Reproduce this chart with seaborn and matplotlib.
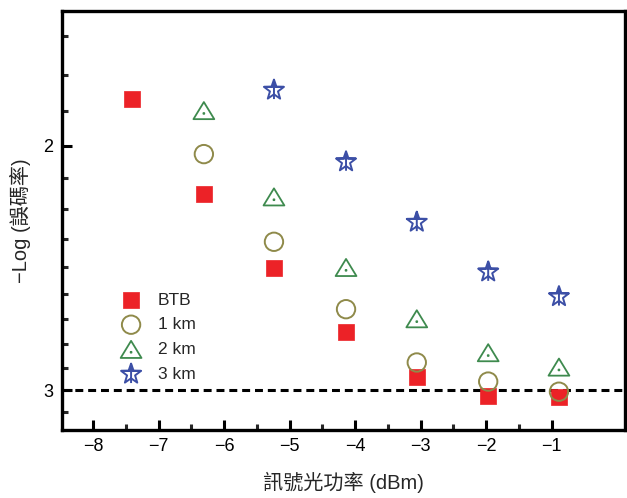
import numpy as np
import pandas as pd
import matplotlib
matplotlib.use("Agg")
import matplotlib.pyplot as plt
import seaborn as sns
from matplotlib.path import Path
from matplotlib.ticker import NullFormatter

# data
x_btb = [-7.40, -6.31, -5.24, -4.14, -3.06, -1.97, -0.89]
y_btb = [1.851, 2.168, 2.451, 2.725, 2.933, 3.026, 3.033]

x_1km = [-6.31, -5.24, -4.14, -3.06, -1.97, -0.89]
y_1km = [2.028, 2.345, 2.622, 2.864, 2.956, 3.006]

x_2km = [-6.31, -5.24, -4.14, -3.06, -1.97, -0.89]
y_2km = [1.887, 2.177, 2.447, 2.664, 2.818, 2.886]

x_3km = [-5.24, -4.14, -3.06, -1.97, -0.89]
y_3km = [1.824, 2.054, 2.270, 2.465, 2.568]

series_labels = ["BTB", "1 km", "2 km", "3 km"]
x_ticks = [-8, -7, -6, -5, -4, -3, -2, -1]
y_ticks = [2, 3]
y_minor = [1 + k / 9 for k in range(6, 9)] + [2 + k / 9 for k in range(1, 9)] + [3 + 1 / 9]

sns.set_style("ticks")
plt.rcParams["font.family"] = ["Liberation Sans", "Noto Sans CJK TC", "DejaVu Sans"]
plt.rcParams["axes.unicode_minus"] = True

# star marker with a cross through it
ang = np.deg2rad(90 + 36 * np.arange(10))
rad = np.where(np.arange(10) % 2 == 0, 1.0, 0.40)
star_v = list(zip(rad * np.cos(ang), rad * np.sin(ang)))
star_verts = star_v + [star_v[0], (0, 1), (0, -0.85), (-0.951, 0.309), (0.951, 0.309)]
star_codes = [Path.MOVETO] + [Path.LINETO] * 9 + [Path.CLOSEPOLY,
              Path.MOVETO, Path.LINETO, Path.MOVETO, Path.LINETO]
star_marker = Path(star_verts, star_codes)

# triangle with a dot in it
d = 0.04
tri_verts = [(0, 0.82), (-1, -0.82), (1, -0.82), (0, 0.82),
             (-d, -0.273 - d), (d, -0.273 - d), (d, -0.273 + d), (-d, -0.273 + d), (-d, -0.273 - d)]
tri_codes = [Path.MOVETO, Path.LINETO, Path.LINETO, Path.CLOSEPOLY,
             Path.MOVETO, Path.LINETO, Path.LINETO, Path.LINETO, Path.CLOSEPOLY]
tri_marker = Path(tri_verts, tri_codes)

fig = plt.figure(figsize=(6.27, 4.98), dpi=100)
ax = fig.add_axes([0.0984, 0.1365, 0.8986, 0.8414])

ax.axhline(3, color="black", ls=(0, (2.6, 1.6)), lw=2.2, zorder=1)

sns.scatterplot(x=x_btb, y=y_btb, ax=ax, marker="s", s=135, color="#ec2227",
                edgecolor="#ec2227", linewidth=0.5, label=series_labels[0], zorder=3)
sns.scatterplot(x=x_1km, y=y_1km, ax=ax, marker="o", s=175, facecolor="none",
                edgecolor="#8f8a4a", linewidth=1.4, label=series_labels[1], zorder=4)
sns.scatterplot(x=x_2km, y=y_2km, ax=ax, marker=tri_marker, s=225, facecolor="none",
                edgecolor="#3e8a4e", linewidth=1.3, label=series_labels[2], zorder=4)
sns.scatterplot(x=x_3km, y=y_3km, ax=ax, marker=star_marker, s=230, facecolor="none",
                edgecolor="#3c4fa6", linewidth=1.4, label=series_labels[3], zorder=4)

ax.set_yscale("log")
ax.set_yticks(y_ticks)
ax.set_yticklabels([str(v) for v in y_ticks])
ax.set_yticks(y_minor, minor=True)
ax.yaxis.set_minor_formatter(NullFormatter())
ax.set_xticks(x_ticks)
ax.set_xticklabels(["\u2212" + str(abs(v)) for v in x_ticks])
ax.set_xticks([v + 0.5 for v in x_ticks[:-1]], minor=True)
ax.set_ylim(3.203, 1.600)
ax.set_xlim(-8.48, 0.12)

ax.tick_params(axis="both", which="major", direction="in", length=7, width=2.2,
               labelsize=13, colors="black", pad=6)
ax.tick_params(axis="both", which="minor", direction="in", length=4, width=2.2)
for side in ["left", "bottom", "top", "right"]:
    ax.spines[side].set_linewidth(2.4)
    ax.spines[side].set_color("black")

ax.set_xlabel("訊號光功率 (dBm)", fontsize=14.5, labelpad=12)
ax.set_ylabel("\u2212Log (誤碼率)", fontsize=14.5, labelpad=9)

leg = ax.legend(loc="upper left", bbox_to_anchor=(0.08, 0.345), frameon=False,
                fontsize=12.5, handletextpad=0.55, labelspacing=0.55, borderaxespad=0)

fig.savefig("out.png", dpi=100)
